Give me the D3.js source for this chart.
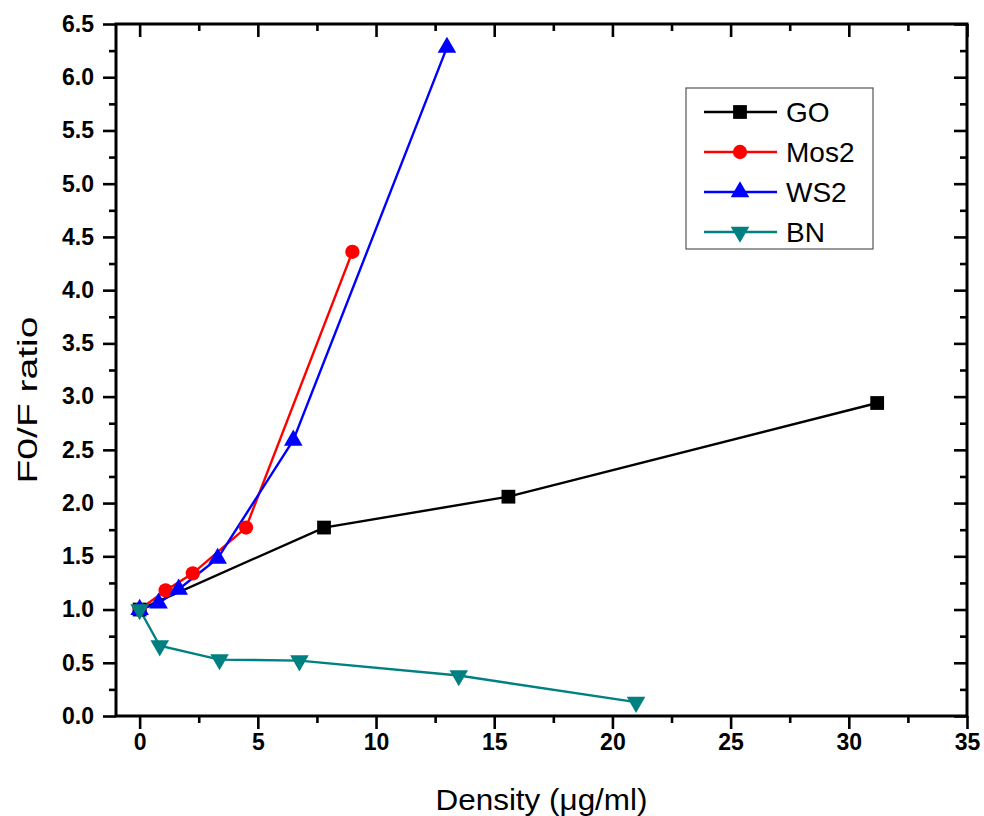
<!DOCTYPE html>
<html>
<head>
<meta charset="utf-8">
<script src="https://cdn.jsdelivr.net/npm/d3@7"></script>
<style>
body { margin: 0; background: #fff; }
svg { font-family: Arial, "Liberation Sans", sans-serif; }
</style>
</head>
<body>
<div id="chart"></div>
<script>
// data
var goX = [0, 7.8, 15.6, 31.2];
var goY = [1.0, 1.77, 2.06, 2.94];
var mosX = [0, 1.1, 2.25, 4.5, 9.0];
var mosY = [1.0, 1.18, 1.34, 1.77, 4.36];
var wsX = [0, 0.8, 1.65, 3.3, 6.5, 13.0];
var wsY = [1.0, 1.06, 1.19, 1.48, 2.59, 6.28];
var bnX = [0, 0.85, 3.38, 6.76, 13.5, 21.0];
var bnY = [1.0, 0.66, 0.53, 0.52, 0.38, 0.13];

var xTicks = [0, 5, 10, 15, 20, 25, 30, 35];
var yTicks = [0, 0.5, 1, 1.5, 2, 2.5, 3, 3.5, 4, 4.5, 5, 5.5, 6, 6.5];

var series = [
  {name: "GO", xs: goX, ys: goY, color: "#000000", sym: d3.symbolSquare, size: 190, rot: 0},
  {name: "Mos2", xs: mosX, ys: mosY, color: "#ff0000", sym: d3.symbolCircle, size: 160, rot: 0},
  {name: "WS2", xs: wsX, ys: wsY, color: "#0000ff", sym: d3.symbolTriangle, size: 150, rot: 0},
  {name: "BN", xs: bnX, ys: bnY, color: "#008080", sym: d3.symbolTriangle, size: 150, rot: 180}
];

var margin = {top: 24, right: 17, bottom: 100, left: 116},
    width = 984 - margin.left - margin.right,
    height = 816 - margin.top - margin.bottom;

var svg = d3.select("#chart")
  .append("svg")
    .attr("width", 984)
    .attr("height", 816)
  .append("g")
    .attr("transform", "translate(" + margin.left + "," + margin.top + ")");

var x = d3.scaleLinear().domain([-1, 35]).range([0, width]);
var y = d3.scaleLinear().domain([0, 6.5]).range([height, 0]);

var xMinor = d3.range(0, 35.01, 2.5).filter(function(d) { return d % 5 != 0; });
var yMinor = d3.range(0.25, 6.5, 0.5);

function styleAxis(g) {
  g.selectAll(".domain").remove();
  g.selectAll("line").attr("stroke", "#000").attr("stroke-width", 2.6);
  g.selectAll("text").attr("font-size", 23).attr("font-weight", "bold").attr("fill", "#000");
}

// bottom
svg.append("g")
  .attr("transform", "translate(0," + height + ")")
  .call(d3.axisBottom(x).tickValues(xTicks).tickSize(13).tickPadding(5).tickFormat(d3.format("d")))
  .call(styleAxis);
svg.append("g")
  .attr("transform", "translate(0," + height + ")")
  .call(d3.axisBottom(x).tickValues(xMinor).tickSize(7).tickFormat(""))
  .call(styleAxis);
// left
svg.append("g")
  .call(d3.axisLeft(y).tickValues(yTicks).tickSize(13).tickPadding(9).tickFormat(d3.format(".1f")))
  .call(styleAxis);
svg.append("g")
  .call(d3.axisLeft(y).tickValues(yMinor).tickSize(7).tickFormat(""))
  .call(styleAxis);
// top (inward)
svg.append("g")
  .call(d3.axisTop(x).tickValues(xTicks).tickSize(-13).tickFormat(""))
  .call(styleAxis);
svg.append("g")
  .call(d3.axisTop(x).tickValues(xMinor).tickSize(-7).tickFormat(""))
  .call(styleAxis);
// right (inward)
svg.append("g")
  .attr("transform", "translate(" + width + ",0)")
  .call(d3.axisRight(y).tickValues(yTicks).tickSize(-13).tickFormat(""))
  .call(styleAxis);
svg.append("g")
  .attr("transform", "translate(" + width + ",0)")
  .call(d3.axisRight(y).tickValues(yMinor).tickSize(-7).tickFormat(""))
  .call(styleAxis);

// frame
svg.append("rect")
  .attr("width", width)
  .attr("height", height)
  .attr("fill", "none")
  .attr("stroke", "#000")
  .attr("stroke-width", 3);

var line = d3.line()
  .x(function(d) { return x(d[0]); })
  .y(function(d) { return y(d[1]); });

series.forEach(function(s) {
  var pts = s.xs.map(function(v, i) { return [v, s.ys[i]]; });
  svg.append("path")
    .datum(pts)
    .attr("d", line)
    .attr("fill", "none")
    .attr("stroke", s.color)
    .attr("stroke-width", 2.4);
});

series.forEach(function(s) {
  var pts = s.xs.map(function(v, i) { return [v, s.ys[i]]; });
  svg.selectAll(null)
    .data(pts)
    .enter()
    .append("path")
      .attr("d", d3.symbol().type(s.sym).size(s.size))
      .attr("transform", function(d) {
        return "translate(" + x(d[0]) + "," + y(d[1]) + ") rotate(" + s.rot + ")";
      })
      .attr("fill", s.color);
});

// legend
var lg = svg.append("g").attr("transform", "translate(" + (686 - margin.left) + "," + (88 - margin.top) + ")");
lg.append("rect")
  .attr("width", 187)
  .attr("height", 161)
  .attr("fill", "#fff")
  .attr("stroke", "#555")
  .attr("stroke-width", 1.2);
series.forEach(function(s, i) {
  var yy = 24 + i * 40;
  lg.append("line")
    .attr("x1", 18).attr("x2", 91)
    .attr("y1", yy).attr("y2", yy)
    .attr("stroke", s.color)
    .attr("stroke-width", 2.4);
  lg.append("path")
    .attr("d", d3.symbol().type(s.sym).size(s.size))
    .attr("transform", "translate(54," + yy + ") rotate(" + s.rot + ")")
    .attr("fill", s.color);
  lg.append("text")
    .attr("x", 100)
    .attr("y", yy + 10)
    .attr("font-size", 28)
    .attr("fill", "#000")
    .text(s.name);
});

// axis titles
svg.append("text")
  .attr("x", width / 2)
  .attr("y", height + 94)
  .attr("text-anchor", "middle")
  .attr("font-size", 29)
  .attr("textLength", 212)
  .attr("lengthAdjust", "spacingAndGlyphs")
  .text("Density (\u03bcg/ml)");

svg.append("text")
  .attr("transform", "translate(" + (37 - margin.left) + "," + (400 - margin.top) + ") rotate(-90)")
  .attr("text-anchor", "middle")
  .attr("font-size", 27)
  .attr("textLength", 167)
  .attr("lengthAdjust", "spacingAndGlyphs")
  .text("F0/F ratio");
</script>
</body>
</html>
